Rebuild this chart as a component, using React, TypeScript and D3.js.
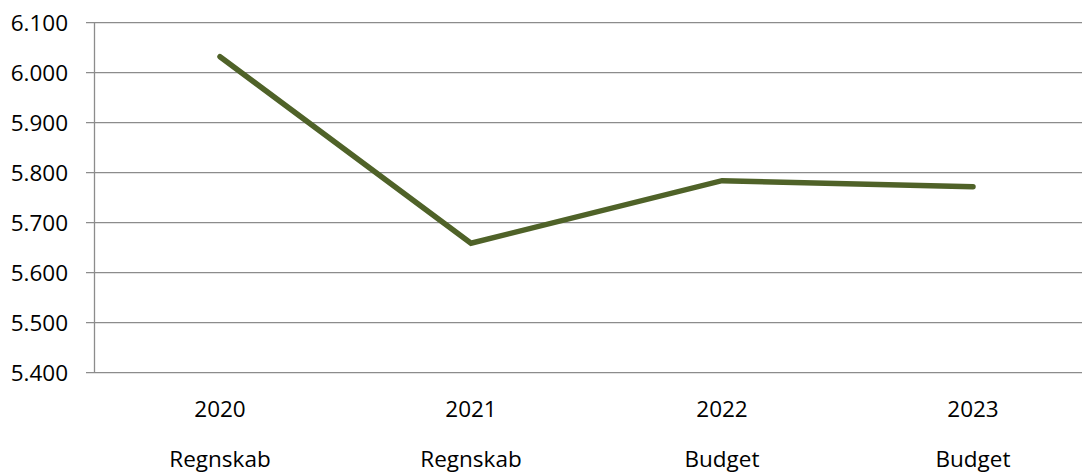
import React from "react";
import * as d3 from "d3";

const years = ["2020", "2021", "2022", "2023"];
const kinds = ["Regnskab", "Regnskab", "Budget", "Budget"];
const values = [6032, 5659, 5784, 5772];
const yTicks = [5400, 5500, 5600, 5700, 5800, 5900, 6000, 6100];

const W = 1082;
const H = 472;
const left = 94.5;
const band = 251;
const top = 22.7;
const bottom = 372.7;

export default function App() {
  const x = d3.scaleBand<string>().domain(years).range([left, left + band * years.length]).padding(0);
  const y = d3.scaleLinear().domain([5400, 6100]).range([bottom, top]);
  const line = d3
    .line<number>()
    .x((_, i) => (x(years[i]) as number) + x.bandwidth() / 2)
    .y((d) => y(d));
  const fmt = (v: number) => d3.format(".3f")(v / 1000);
  const font = "'Open Sans', sans-serif";
  const fs = 22.5;
  return (
    <svg width={W} height={H} style={{ position: "absolute", left: 0, top: 0 }}>
      <rect width={W} height={H} fill="#fff" />
      {yTicks.map((t) => (
        <g key={t}>
          <line x1={86} x2={W} y1={y(t)} y2={y(t)} stroke="#8c8c8c" strokeWidth={1.3} />
          <text x={68} y={y(t)} dy="0.36em" textAnchor="end" fontFamily={font} fontSize={fs} fill="#000">
            {fmt(t)}
          </text>
        </g>
      ))}
      <line x1={left} x2={left} y1={top} y2={bottom} stroke="#8c8c8c" strokeWidth={1.3} />
      <path d={line(values) || ""} fill="none" stroke="#4f6228" strokeWidth={5.5} strokeLinecap="round" strokeLinejoin="miter" />
      {years.map((yr, i) => {
        const cx = (x(yr) as number) + x.bandwidth() / 2;
        return (
          <g key={yr}>
            <text x={cx} y={416.5} textAnchor="middle" fontFamily={font} fontSize={fs} fill="#000">
              {yr}
            </text>
            <text x={cx} y={466.5} textAnchor="middle" fontFamily={font} fontSize={fs} fill="#000">
              {kinds[i]}
            </text>
          </g>
        );
      })}
    </svg>
  );
}
